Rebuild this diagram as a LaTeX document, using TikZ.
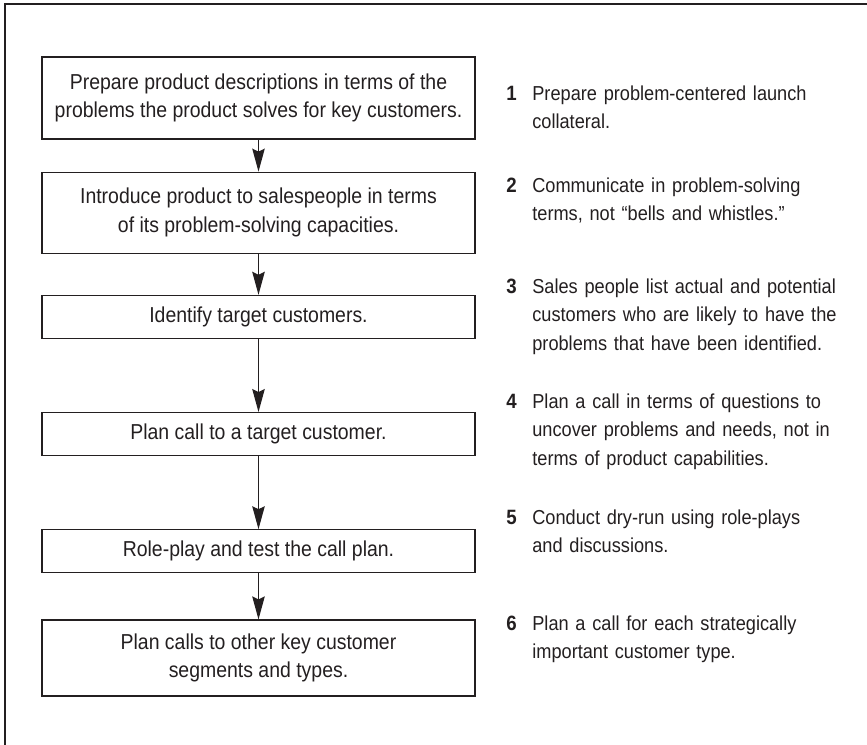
\documentclass[tikz,border=0pt]{standalone}
\usepackage{fontspec}
\setmainfont{Liberation Sans}[FakeStretch=0.9]
\usetikzlibrary{positioning,arrows.meta}
\definecolor{ink}{RGB}{35,31,32}

\begin{document}
\begin{tikzpicture}[x=0.02cm,y=-0.02cm,
        every node/.style={text=ink,font=\fontsize{11.5}{16.3}\selectfont},
        stepbox/.style={draw=ink,line width=0.7pt,minimum width=8.66cm,align=center,inner sep=0pt,font=\fontsize{12.3}{16.3}\selectfont},
        num/.style={anchor=base west,inner sep=0pt,font=\fontsize{11.8}{16.3}\selectfont\bfseries},
        note/.style={anchor=base west,inner sep=0pt,text width=6.8cm,align=left},
        flow/.style={draw=ink,line width=0.7pt,-{Stealth[length=0.46cm,width=0.25cm,inset=0.06cm]}}]
        \useasboundingbox (0,0) rectangle (867,745);
        \draw[ink,line width=1.2pt] (5,745) -- (5,4) -- (867,4);

        \node[stepbox,minimum height=1.64cm] (prep) at (258.5,98) {Prepare product descriptions in terms of the\\problems the product solves for key customers.};
        \node[stepbox,minimum height=1.62cm,below=0.64cm of prep] (intro) {Introduce product to salespeople in terms\\of its problem-solving capacities.};
        \node[stepbox,minimum height=0.86cm,below=0.82cm of intro] (ident) {Identify target customers.};
        \node[stepbox,minimum height=0.86cm,below=1.46cm of ident] (plan) {Plan call to a target customer.};
        \node[stepbox,minimum height=0.86cm,below=1.46cm of plan] (role) {Role-play and test the call plan.};
        \node[stepbox,minimum height=1.52cm,below=0.92cm of role] (other) {Plan calls to other key customer\\segments and types.};

        \draw[flow] (prep) -- (intro);
        \draw[flow] (intro) -- (ident);
        \draw[flow] (ident) -- (plan);
        \draw[flow] (plan) -- (role);
        \draw[flow] (role) -- (other);

        \node[num] (num1) at (506,100) {1};
        \node[num] (num2) at (506,192) {2};
        \node[num] (num3) at (506,293) {3};
        \node[num] (num4) at (506,408) {4};
        \node[num] (num5) at (506,524) {5};
        \node[num] (num6) at (506,630) {6};

        \node[note] (note1) at ([xshift=0.52cm]num1.base west) {Prepare problem-centered launch\\collateral.};
        \node[note] (note2) at ([xshift=0.52cm]num2.base west) {Communicate in problem-solving\\terms, not “bells and whistles.”};
        \node[note] (note3) at ([xshift=0.52cm]num3.base west) {Sales people list actual and potential\\customers who are likely to have the\\problems that have been identified.};
        \node[note] (note4) at ([xshift=0.52cm]num4.base west) {Plan a call in terms of questions to\\uncover problems and needs, not in\\terms of product capabilities.};
        \node[note] (note5) at ([xshift=0.52cm]num5.base west) {Conduct dry-run using role-plays\\and discussions.};
        \node[note] (note6) at ([xshift=0.52cm]num6.base west) {Plan a call for each strategically\\important customer type.};
\end{tikzpicture}
\end{document}
